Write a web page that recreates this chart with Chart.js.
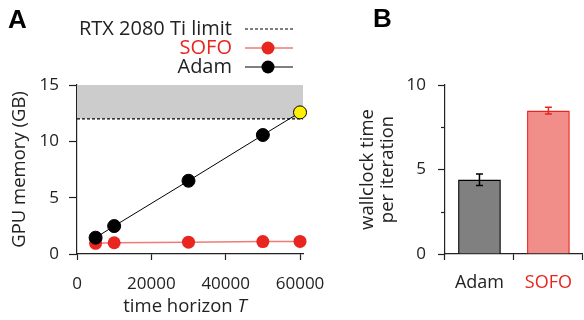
<!DOCTYPE html>
<html>
<head>
<meta charset="utf-8">
<script src="https://cdn.jsdelivr.net/npm/chart.js@4.4.0/dist/chart.umd.min.js"></script>
<style>
  body { margin: 0; background: #fff; width: 584px; height: 320px; overflow: hidden; position: relative; }
  #wrapA { position: absolute; left: 0; top: 0; width: 340px; height: 320px; }
  #wrapB { position: absolute; left: 340px; top: 0; width: 244px; height: 320px; }
</style>
</head>
<body>
<div id="wrapA"><canvas id="chartA"></canvas></div>
<div id="wrapB"><canvas id="chartB"></canvas></div>
<script>
// panel A: memory vs time horizon
const horizons = [5000, 10000, 30000, 50000, 60000];
const adamMemory = [1.45, 2.48, 6.5, 10.56, 12.57];
const sofoMemory = [0.95, 1.0, 1.05, 1.1, 1.12];
const gpuLimit = 12;
const memMax = 15;
const horizonMax = 60800;
const memTicks = [0, 5, 10, 15];
const horizonTicks = [0, 20000, 40000, 60000];

// panel B: wallclock time
const optimizers = ['Adam', 'SOFO'];
const wallclock = [4.41, 8.49];
const wallclockLow = [4.06, 8.29];
const wallclockHigh = [4.74, 8.68];
const wallclockTicks = [0, 5, 10];
const wallclockMinor = [2.5, 7.5];

const FONT = "'Open Sans', sans-serif";
const INK = '#222';
const RED = '#e8251f';
const RED_LIGHT = '#f07a75';
const TICK_SIZE = 17;
const TITLE_SIZE = 18.5;

Chart.defaults.font.family = FONT;
Chart.defaults.font.size = TICK_SIZE;
Chart.defaults.color = INK;
Chart.defaults.animation = false;

const pts = (xs, ys) => xs.map((x, i) => ({ x: x, y: ys[i] }));

const panelA = {
    id: 'panelA',
    afterDraw(chart) {
        const ctx = chart.ctx;
        ctx.save();
        // panel letter
        ctx.font = "bold 26px 'Liberation Sans', sans-serif";
        ctx.fillStyle = '#000';
        ctx.textBaseline = 'alphabetic';
        ctx.textAlign = 'left';
        ctx.fillText('A', 8, 28);

        // legend
        const rows = [
            { text: 'RTX 2080 Ti limit', color: INK, y: 29, kind: 'dash' },
            { text: 'SOFO', color: RED, y: 48, kind: 'sofo' },
            { text: 'Adam', color: INK, y: 67, kind: 'adam' }
        ];
        ctx.font = '20px ' + FONT;
        ctx.textAlign = 'right';
        ctx.textBaseline = 'middle';
        rows.forEach(r => {
            ctx.fillStyle = r.color;
            ctx.fillText(r.text, 232, r.y);
            ctx.beginPath();
            ctx.moveTo(245, r.y);
            ctx.lineTo(293, r.y);
            if (r.kind === 'dash') {
                ctx.setLineDash([3, 2]);
                ctx.strokeStyle = '#000';
                ctx.lineWidth = 1.2;
            } else {
                ctx.setLineDash([]);
                ctx.strokeStyle = r.kind === 'sofo' ? RED_LIGHT : '#000';
                ctx.lineWidth = r.kind === 'sofo' ? 1.5 : 1;
            }
            ctx.stroke();
            ctx.setLineDash([]);
            if (r.kind !== 'dash') {
                ctx.beginPath();
                ctx.arc(268, r.y, 6.5, 0, Math.PI * 2);
                ctx.fillStyle = r.kind === 'sofo' ? RED : '#000';
                ctx.fill();
            }
        });

        // x axis title with italic T
        ctx.textAlign = 'left';
        ctx.textBaseline = 'alphabetic';
        ctx.fillStyle = INK;
        const a = 'time horizon ';
        ctx.font = TITLE_SIZE + 'px ' + FONT;
        const w = ctx.measureText(a).width;
        ctx.font = 'italic ' + TITLE_SIZE + 'px ' + FONT;
        const wT = ctx.measureText('T').width;
        const x0 = 185 - (w + wT) / 2;
        ctx.font = TITLE_SIZE + 'px ' + FONT;
        ctx.fillText(a, x0, 312);
        ctx.font = 'italic ' + TITLE_SIZE + 'px ' + FONT;
        ctx.fillText('T', x0 + w, 312);
        ctx.restore();
    }
};

new Chart(document.getElementById('chartA'), {
    type: 'scatter',
    data: {
        datasets: [
            {
                label: 'Adam',
                data: pts(horizons, adamMemory),
                showLine: true,
                borderColor: '#000',
                borderWidth: 1,
                pointRadius: 6.5,
                pointBorderWidth: 1,
                pointBorderColor: '#000',
                pointBackgroundColor: c => c.dataIndex === adamMemory.length - 1 ? '#ffef00' : '#000',
                clip: false
            },
            {
                label: 'SOFO',
                data: pts(horizons, sofoMemory),
                showLine: true,
                borderColor: RED_LIGHT,
                borderWidth: 1.5,
                pointRadius: 6.5,
                pointBorderWidth: 0,
                pointBackgroundColor: RED,
                clip: false
            },
            {
                label: 'RTX 2080 Ti limit',
                data: [{ x: 0, y: gpuLimit }, { x: horizonMax, y: gpuLimit }],
                showLine: true,
                borderColor: '#000',
                borderDash: [3, 2],
                borderWidth: 1.2,
                pointRadius: 0
            },
            {
                label: 'band',
                data: [{ x: 0, y: memMax }, { x: horizonMax, y: memMax }],
                showLine: true,
                borderColor: 'rgba(0,0,0,0)',
                borderWidth: 0,
                pointRadius: 0,
                fill: '-1',
                backgroundColor: '#cccccc'
            }
        ]
    },
    options: {
        responsive: true,
        maintainAspectRatio: false,
        layout: { padding: { left: 9, top: 85, right: 37, bottom: 0 } },
        plugins: { legend: { display: false }, tooltip: { enabled: false } },
        scales: {
            x: {
                type: 'linear',
                min: 0,
                max: horizonMax,
                afterBuildTicks: s => { s.ticks = horizonTicks.map(v => ({ value: v })); },
                afterFit: s => { s.height = 66; },
                grid: { drawOnChartArea: false, tickLength: 6, color: INK, tickWidth: 1.2 },
                border: { color: INK, width: 1.2 },
                ticks: { color: INK, padding: 14, maxRotation: 0, autoSkip: false, callback: v => String(v) }
            },
            y: {
                min: 0,
                max: memMax,
                afterBuildTicks: s => { s.ticks = memTicks.map(v => ({ value: v })); },
                afterFit: s => { s.width = 68; },
                grid: { drawOnChartArea: false, tickLength: 8, color: INK, tickWidth: 1.2 },
                border: { color: INK, width: 1.2 },
                ticks: { color: INK, padding: 10, callback: v => String(v) },
                title: { display: true, text: 'GPU memory (GB)', color: INK, padding: 0, font: { size: TITLE_SIZE } }
            }
        }
    },
    plugins: [panelA]
});

const panelB = {
    id: 'panelB',
    afterDatasetsDraw(chart) {
        const ctx = chart.ctx;
        const meta = chart.getDatasetMeta(0);
        const y = chart.scales.y;
        ctx.save();
        meta.data.forEach((bar, i) => {
            const yl = y.getPixelForValue(wallclockLow[i]);
            const yh = y.getPixelForValue(wallclockHigh[i]);
            ctx.strokeStyle = i === 1 ? RED : '#000';
            ctx.lineWidth = 1.5;
            ctx.beginPath();
            ctx.moveTo(bar.x, yl); ctx.lineTo(bar.x, yh);
            ctx.moveTo(bar.x - 3.5, yl); ctx.lineTo(bar.x + 3.5, yl);
            ctx.moveTo(bar.x - 3.5, yh); ctx.lineTo(bar.x + 3.5, yh);
            ctx.stroke();
        });
        // minor ticks on the y axis
        ctx.strokeStyle = INK;
        ctx.lineWidth = 1.2;
        wallclockMinor.forEach(v => {
            const py = Math.round(y.getPixelForValue(v)) + 0.5;
            ctx.beginPath();
            ctx.moveTo(y.right - 4, py);
            ctx.lineTo(y.right, py);
            ctx.stroke();
        });
        ctx.restore();
    },
    afterDraw(chart) {
        const ctx = chart.ctx;
        ctx.save();
        ctx.font = "bold 26px 'Liberation Sans', sans-serif";
        ctx.fillStyle = '#000';
        ctx.textBaseline = 'alphabetic';
        ctx.fillText('B', 33, 27);
        ctx.restore();
    }
};

new Chart(document.getElementById('chartB'), {
    type: 'bar',
    data: {
        labels: optimizers,
        datasets: [{
            data: wallclock,
            backgroundColor: ['#808080', '#f28e8a'],
            borderColor: ['#000', RED],
            borderWidth: 1.6,
            barPercentage: 0.62,
            categoryPercentage: 1
        }]
    },
    options: {
        responsive: true,
        maintainAspectRatio: false,
        layout: { padding: { left: 18, top: 85, right: 0, bottom: 0 } },
        plugins: { legend: { display: false }, tooltip: { enabled: false } },
        scales: {
            x: {
                afterFit: s => { s.height = 66; },
                grid: { drawOnChartArea: false, tickLength: 6, color: INK, tickWidth: 1.2 },
                border: { color: INK, width: 1.2 },
                ticks: { color: c => c.index === 1 ? RED : INK, padding: 12, font: { size: 18 } }
            },
            y: {
                min: 0,
                max: 10,
                afterBuildTicks: s => { s.ticks = wallclockTicks.map(v => ({ value: v })); },
                afterFit: s => { s.width = 87; },
                grid: { drawOnChartArea: false, tickLength: 7, color: INK, tickWidth: 1.2 },
                border: { color: INK, width: 1.2 },
                ticks: { color: INK, padding: 12, callback: v => String(v) },
                title: {
                    display: true,
                    text: ['wallclock time', 'per iteration'],
                    color: INK,
                    padding: 0,
                    font: { size: TITLE_SIZE, lineHeight: '20px' }
                }
            }
        }
    },
    plugins: [panelB]
});
</script>
</body>
</html>
